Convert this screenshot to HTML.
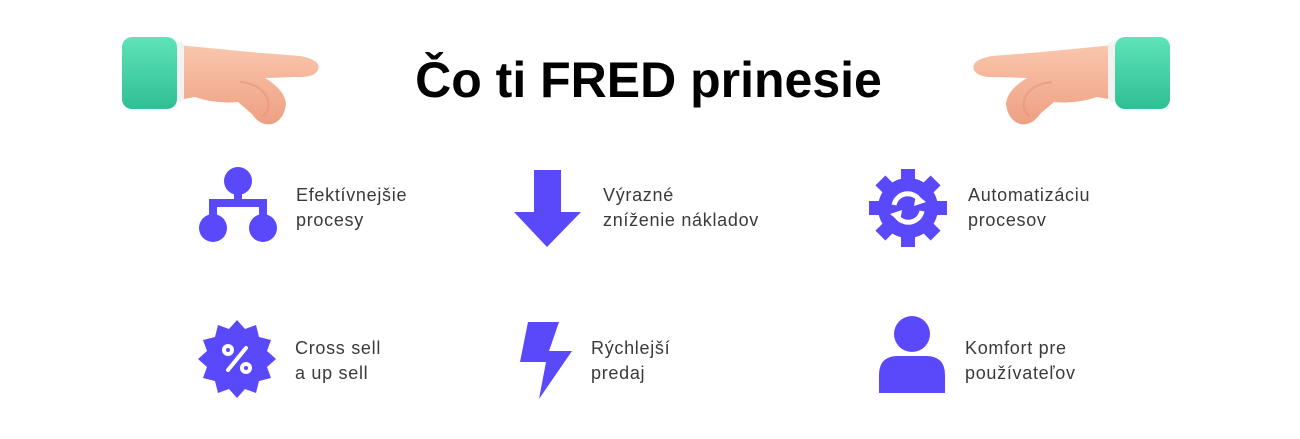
<!DOCTYPE html>
<html><head><meta charset="utf-8"><style>
body{margin:0;width:1300px;height:439px;background:#fff;position:relative;overflow:hidden;font-family:"Liberation Sans",sans-serif}
.t{position:absolute;font-size:18px;line-height:25px;color:#3a3a3a;letter-spacing:0.7px}
h1{position:absolute;left:0;width:1297px;top:50px;margin:0;text-align:center;font-size:50px;font-weight:bold;color:#000;line-height:60px}
svg{position:absolute}
</style></head><body>
<svg width="1300" height="439" style="left:0;top:0">
<defs>
<linearGradient id="cf" x1="0" y1="0" x2="0" y2="1"><stop offset="0" stop-color="#5fe3b8"/><stop offset="1" stop-color="#2fbf94"/></linearGradient>
<linearGradient id="sk" x1="0" y1="0" x2="0" y2="1"><stop offset="0" stop-color="#f9c7ad"/><stop offset="1" stop-color="#ee9f82"/></linearGradient>
<g id="hand">
<path d="M178 45 L250 52 L300 56 Q322 60 318 70 Q314 78 295 77 L265 78 Q285 90 286 104 Q284 120 272 124 Q260 126 252 114 L238 102 Q215 104 195 97 L178 100 Z" fill="url(#sk)"/>
<path d="M240 82 Q262 84 268 100 Q270 112 262 116" stroke="#e8927a" stroke-width="2" fill="none" opacity="0.6"/>
<rect x="172" y="42" width="12" height="60" rx="4" fill="#f2f2f2"/>
<rect x="122" y="37" width="55" height="72" rx="10" fill="url(#cf)"/>
</g>
</defs>
<use href="#hand"/>
<use href="#hand" transform="translate(1292,0) scale(-1,1)"/>
<g fill="#5a48fb">
<circle cx="238" cy="181" r="14"/>
<rect x="234" y="190" width="8" height="12"/>
<rect x="209" y="199" width="58" height="8"/>
<rect x="209" y="199" width="8" height="18"/><rect x="259" y="199" width="8" height="18"/>
<circle cx="213" cy="228" r="14"/><circle cx="263" cy="228" r="14"/>
<path d="M534 170 H561 V212 H581 L547 247 L514 212 H534 Z"/>
<g transform="translate(908,208)">
<circle r="30"/>
<g id="tooth"><rect x="-7" y="-39" width="14" height="14"/></g>
<use href="#tooth" transform="rotate(45)"/><use href="#tooth" transform="rotate(90)"/><use href="#tooth" transform="rotate(135)"/><use href="#tooth" transform="rotate(180)"/><use href="#tooth" transform="rotate(225)"/><use href="#tooth" transform="rotate(270)"/><use href="#tooth" transform="rotate(315)"/>
<path d="M-14 -3 A14 14 0 0 1 12 -7" stroke="#fff" stroke-width="5" fill="none"/>
<path d="M14 3 A14 14 0 0 1 -12 7" stroke="#fff" stroke-width="5" fill="none"/>
<path d="M8 -14 L18 -6 L6 -2 Z" fill="#fff"/><path d="M-8 14 L-18 6 L-6 2 Z" fill="#fff"/>
</g>
<g transform="translate(237,359)">
<polygon points="0,-39 8,-30 19,-34 22,-22 34,-19 30,-8 39,0 30,8 34,19 22,22 19,34 8,30 0,39 -8,30 -19,34 -22,22 -34,19 -30,8 -39,0 -30,-8 -34,-19 -22,-22 -19,-34 -8,-30"/>
<circle cx="-9" cy="-9" r="6" fill="#fff"/><circle cx="-9" cy="-9" r="2" fill="#5a48fb"/>
<circle cx="9" cy="9" r="6" fill="#fff"/><circle cx="9" cy="9" r="2" fill="#5a48fb"/>
<line x1="-9" y1="11" x2="9" y2="-11" stroke="#fff" stroke-width="4" stroke-linecap="round"/>
</g>
<path d="M528 322 H559 L549 351 H572 L539 399 L546 362 H520 Z"/>
<circle cx="912" cy="334" r="18"/>
<path d="M879 393 V375 Q879 356 898 356 H926 Q945 356 945 375 V393 Z"/>
</g>
</svg>
<h1>Čo ti FRED prinesie</h1>
<div class="t" style="left:296px;top:183px">Efektívnejšie<br>procesy</div>
<div class="t" style="left:603px;top:183px">Výrazné<br>zníženie nákladov</div>
<div class="t" style="left:968px;top:183px">Automatizáciu<br>procesov</div>
<div class="t" style="left:295px;top:336px">Cross sell<br>a up sell</div>
<div class="t" style="left:591px;top:336px">Rýchlejší<br>predaj</div>
<div class="t" style="left:965px;top:336px">Komfort pre<br>používateľov</div>
</body></html>
